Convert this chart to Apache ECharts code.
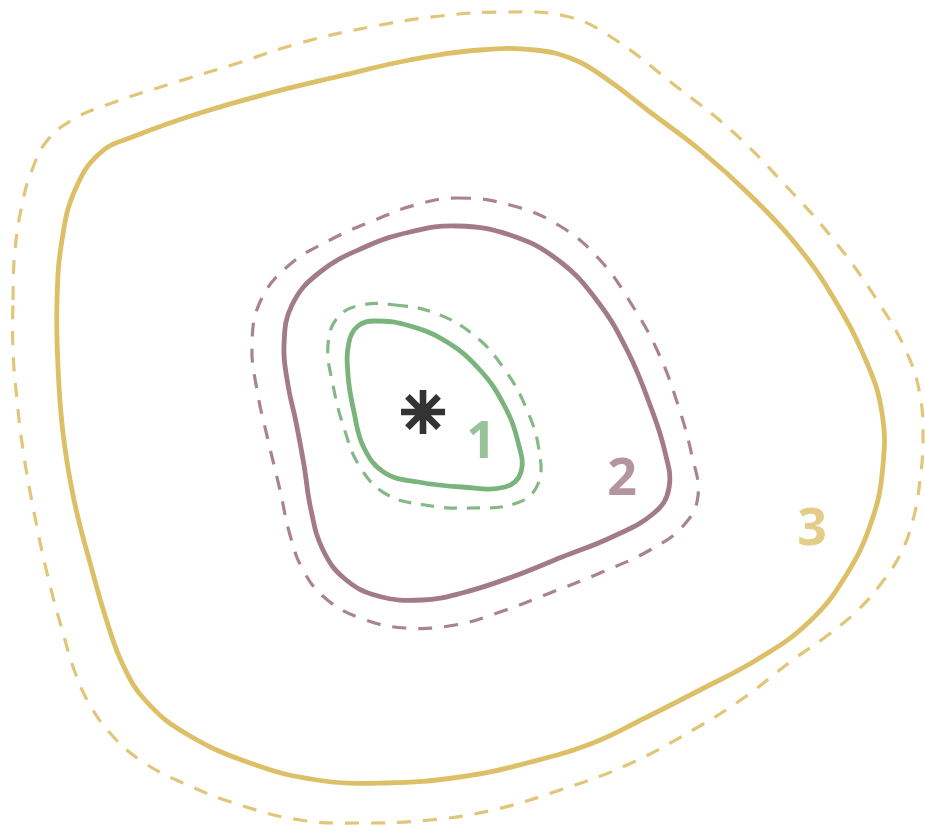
<!DOCTYPE html>
<html>
<head>
<meta charset="utf-8">
<script src="https://cdn.jsdelivr.net/npm/echarts@6/dist/echarts.min.js"></script>
<style>
html,body{margin:0;padding:0;background:#fff;}
#chart{width:925px;height:825px;}
</style>
</head>
<body>
<div id="chart"></div>
<script>
// Closed contour outlines (x, y in picture units)
const greenSolid = [[375,321],[410,326],[447,342],[480,370],[504,405],[518,442],[521,472],[505,487],[462,487],[418,482],[385,473],[364,448],[354,412],[348,375],[349,342],[358,326]];
const greenDashed = [[395,305],[435,313],[475,336],[505,370],[527,410],[539,450],[538,484],[517,503],[470,508],[425,505],[386,494],[360,467],[344,428],[333,385],[328,345],[338,317],[362,305]];
const mauveSolid = [[457,226],[510,235],[558,260],[598,302],[628,352],[650,405],[665,452],[669,488],[654,513],[612,537],[562,557],[512,577],[462,593],[422,600],[378,596],[345,579],[323,550],[311,510],[304,465],[296,422],[288,385],[284,345],[292,305],[320,272],[365,247],[410,232]];
const mauveDashed = [[457,198],[510,205],[560,226],[600,260],[632,305],[658,352],[678,405],[692,456],[698,496],[684,525],[650,550],[600,573],[550,593],[500,612],[455,625],[405,628],[360,618],[325,598],[303,570],[290,535],[280,490],[268,440],[257,390],[252,345],[260,302],[288,266],[330,240],[375,220],[415,205]];
const goldSolid = [[57,300],[62,240],[75,190],[100,153],[135,136],[200,113],[270,93],[340,76],[410,60],[480,50],[535,50],[575,60],[608,80],[650,112],[700,150],[750,195],[795,243],[833,297],[867,363],[882,413],[883,465],[872,520],[845,577],[808,623],[758,659],[700,690],[645,718],[593,743],[527,763],[460,777],[385,783],[317,780],[250,763],[185,733],[145,700],[123,665],[108,625],[92,570],[74,500],[63,433],[58,367]];
const goldDashed = [[13,300],[15,250],[23,200],[32,170],[46,142],[72,120],[112,103],[170,84],[235,64],[300,43],[370,27],[440,16],[505,12],[565,16],[608,35],[677,87],[733,132],[787,187],[833,239],[877,300],[907,353],[920,395],[923,440],[920,480],[913,520],[900,555],[880,585],[858,610],[828,635],[790,662],[745,697],[693,730],[627,765],[560,790],[493,810],[430,820],[360,823],[300,820],[240,805],[183,783],[140,760],[110,733],[90,705],[76,675],[63,633],[47,573],[33,507],[23,450],[17,400],[13,350]];

// Level labels and the centre marker
const levelNames = ['1','2','3'];
const levelPos = [[481,443],[622,480],[812,530]];
const levelColors = ['#7db47f','#a07a87','#dcc06a'];
const centre = [[423,412]];

const curves = [
  {pts: goldDashed,  color:'#e0c679', width:3.2, dash:[14,12]},
  {pts: goldSolid,   color:'#dcbf67', width:4.8, dash:null},
  {pts: mauveDashed, color:'#a9848f', width:3.2, dash:[14,12]},
  {pts: mauveSolid,  color:'#a27b87', width:4.8, dash:null},
  {pts: greenDashed, color:'#84b886', width:3.2, dash:[13,10]},
  {pts: greenSolid,  color:'#7bb37d', width:4.8, dash:null}
];

const starPath = 'path://M-3,-20L3,-20L3,20L-3,20Z M-20,-3L20,-3L20,3L-20,3Z M-12.02,-16.26L16.26,12.02L12.02,16.26L-16.26,-12.02Z M-16.26,12.02L12.02,-16.26L16.26,-12.02L-12.02,16.26Z';

const series = curves.map(c => ({
  type: 'custom',
  silent: true,
  data: c.pts,
  encode: {x:0, y:1},
  renderItem: function (params, api) {
    if (params.dataIndex !== 0) return null;
    const pts = c.pts.map(p => api.coord(p));
    return {
      type: 'polygon',
      shape: {points: pts, smooth: 0.42},
      style: {fill: 'none', stroke: c.color, lineWidth: c.width, lineDash: c.dash, lineCap: 'butt', lineJoin: 'round'}
    };
  }
}));

series.push({
  type: 'scatter',
  silent: true,
  data: centre,
  symbol: starPath,
  symbolSize: 44,
  itemStyle: {color: '#000'}
});

series.push({
  type: 'scatter',
  silent: true,
  symbolSize: 0,
  data: levelNames.map((n, i) => ({
    value: levelPos[i],
    name: n,
    label: {show: true, position: 'inside', formatter: n, color: levelColors[i],
      fontSize: 52, fontWeight: 700, fontFamily: 'Open Sans'}
  }))
});

const chart = echarts.init(document.getElementById('chart'));
chart.setOption({
  animation: false,
  backgroundColor: '#fff',
  grid: {left:0, right:0, top:0, bottom:0},
  xAxis: {type:'value', min:0, max:925, show:false},
  yAxis: {type:'value', min:0, max:825, inverse:true, show:false},
  series: series
});
</script>
</body>
</html>
